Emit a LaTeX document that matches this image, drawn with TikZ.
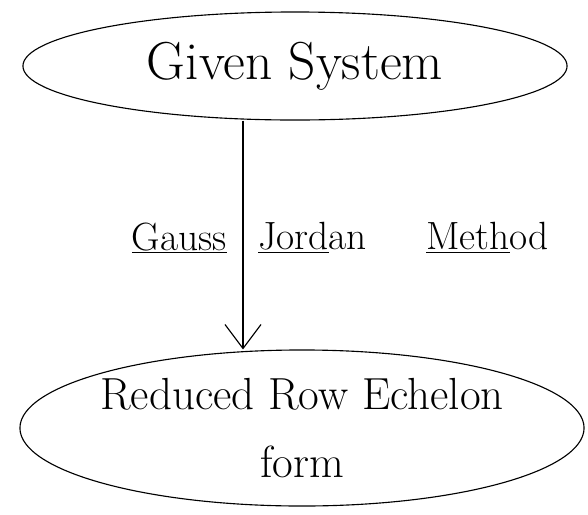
\documentclass[tikz,border=0pt]{standalone}
\usetikzlibrary{arrows.meta,positioning,shapes.geometric}

\begin{document}
\begin{tikzpicture}[
    x=0.025cm, y=-0.025cm,
    oval/.style={
        draw,
        ellipse,
        thick,
        align=center,
        inner xsep=-1.5cm,
        inner ysep=-0.6cm
    },
    label/.style={font=\fontsize{28}{32}\selectfont, inner sep=2pt},
    line/.style={-{Straight Barb[length=6mm,width=9mm]}, thick}
]
\useasboundingbox (0,0) rectangle (588,515);

\node[oval, minimum width=13.6cm, minimum height=2.7cm,
      font=\fontsize{38}{44}\selectfont] (given) at (295,66) {Given System};
\node[oval, minimum width=14.1cm, minimum height=3.9cm,
      font=\fontsize{32}{48}\selectfont] (reduced) at (302,428) {Reduced Row Echelon\\form};

\coordinate (split) at (243,240);
\node[label, anchor=east] (gauss) at (230,238) {\underline{Gauss}};
\node[label, anchor=west] (jordan) at (255,238) {\underline{Jord}an\hspace{42pt}\underline{Meth}od};

\draw[line] (given.south -| split) -- (reduced.north -| split);

\end{tikzpicture}
\end{document}
